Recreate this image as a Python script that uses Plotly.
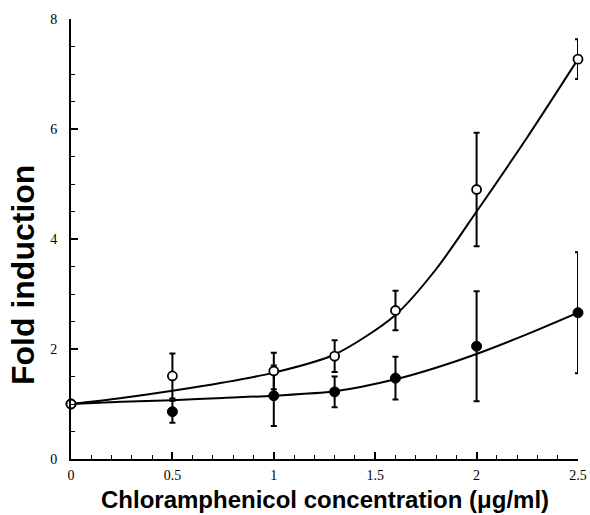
import plotly.graph_objects as go

# Data
conc = [0, 0.5, 1.0, 1.3, 1.6, 2.0, 2.5]
open_vals = [1.0, 1.51, 1.60, 1.87, 2.70, 4.90, 7.27]
open_err = [0.0, 0.41, 0.33, 0.29, 0.36, 1.03, 0.36]
filled_vals = [1.0, 0.86, 1.15, 1.22, 1.47, 2.05, 2.66]
filled_err = [0.0, 0.20, 0.55, 0.28, 0.39, 1.00, 1.10]

# Smooth fitted curves (knots)
curve_x = [0, 0.25, 0.5, 0.75, 1.0, 1.3, 1.6, 1.8, 2.0, 2.25, 2.5]
open_curve = [1.0, 1.11, 1.24, 1.39, 1.57, 1.90, 2.62, 3.45, 4.50, 5.85, 7.27]
filled_curve = [1.0, 1.04, 1.07, 1.11, 1.15, 1.23, 1.45, 1.66, 1.91, 2.27, 2.66]

x_ticks = [0, 0.5, 1, 1.5, 2, 2.5]
x_tick_labels = ["0", "0.5", "1", "1.5", "2", "2.5"]
y_ticks = [0, 2, 4, 6, 8]

fig = go.Figure()

for cy in (open_curve, filled_curve):
    fig.add_trace(go.Scatter(x=curve_x, y=cy, mode="lines",
                             line=dict(color="black", width=2, shape="spline", smoothing=0.8),
                             hoverinfo="skip", cliponaxis=False))

fig.add_trace(go.Scatter(x=conc, y=filled_vals, mode="markers",
                         error_y=dict(type="data", array=filled_err, color="black",
                                      thickness=2, width=3),
                         marker=dict(color="black", size=10, line=dict(color="black", width=1)),
                         cliponaxis=False))
fig.add_trace(go.Scatter(x=conc, y=open_vals, mode="markers",
                         error_y=dict(type="data", array=open_err, color="black",
                                      thickness=2, width=3),
                         marker=dict(color="white", size=9, line=dict(color="black", width=1.8)),
                         cliponaxis=False))

tickfont = dict(family="Liberation Serif, Times New Roman, serif", size=14, color="black")

fig.update_layout(
    width=590, height=515,
    margin=dict(l=71, r=12, t=19, b=56),
    paper_bgcolor="white", plot_bgcolor="white",
    showlegend=False,
    xaxis=dict(range=[0, 2.5], tickvals=x_ticks, ticktext=x_tick_labels, automargin=False,
               ticks="inside", ticklen=7, tickwidth=1.5, tickcolor="black",
               minor=dict(dtick=0.1, ticks="inside", ticklen=4, tickwidth=1.2, tickcolor="black"),
               showline=True, linecolor="black", linewidth=2, showgrid=False, zeroline=False,
               tickfont=tickfont, ticklabelstandoff=2),
    yaxis=dict(range=[0, 8], tickvals=y_ticks, automargin=False,
               ticks="inside", ticklen=7, tickwidth=1.5, tickcolor="black",
               minor=dict(dtick=0.5, ticks="inside", ticklen=4, tickwidth=1.2, tickcolor="black"),
               showline=True, linecolor="black", linewidth=2, showgrid=False, zeroline=False,
               tickfont=tickfont, ticklabelstandoff=9),
    annotations=[
        dict(text="<b>Chloramphenicol concentration (\u03bcg/ml)</b>", xref="paper", yref="paper",
             x=0.5, y=0, yshift=-40, showarrow=False, yanchor="middle",
             font=dict(family="Liberation Sans, Arial, sans-serif", size=24, color="black")),
        dict(text="<b>Fold induction</b>", xref="paper", yref="paper", textangle=-90,
             x=0, xshift=-48, y=0.5, yshift=-36, showarrow=False, xanchor="center",
             font=dict(family="Liberation Sans, Arial, sans-serif", size=32, color="black")),
    ],
)

fig.write_html("out.html")
